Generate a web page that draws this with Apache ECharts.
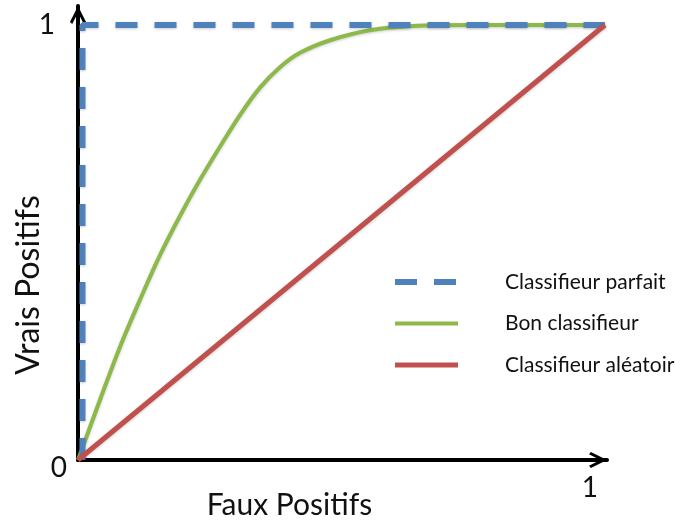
<!DOCTYPE html>
<html>
<head>
<meta charset="utf-8">
<script src="https://cdn.jsdelivr.net/npm/echarts@6/dist/echarts.min.js"></script>
<style>html,body{margin:0;padding:0;background:#fff}#c{width:675px;height:526px}</style>
</head>
<body>
<div id="c"></div>
<script>
// Data
const seriesNames = ['Classifieur parfait', 'Bon classifieur', 'Classifieur aléatoir'];
const perfectFP = [0.0085, 0.0085, 1];
const perfectTP = [0, 1, 1];
const goodFP = [0, 0.0417, 0.0797, 0.1176, 0.1556, 0.1935, 0.2315, 0.2694, 0.3074, 0.3454, 0.3833, 0.4213, 0.4782, 0.5541, 0.6357, 0.7438, 1];
const goodTP = [0, 0.138, 0.260, 0.368, 0.471, 0.561, 0.644, 0.720, 0.793, 0.856, 0.903, 0.936, 0.965, 0.988, 0.998, 1, 1];
const randomFP = [0, 1];
const randomTP = [0, 1];
const xTickLabels = ['', '1'];
const yTickLabels = ['0', '1'];
const xTitle = 'Faux Positifs';
const yTitle = 'Vrais Positifs';

const zip = (a, b) => a.map((v, i) => [v, b[i]]);
const FONT = 'Lato';
const arrow = 'path://M0,10 L5,0 L10,10 L8.6,11.2 L5,4.2 L1.4,11.2 Z';

const chart = echarts.init(document.getElementById('c'), null, {renderer: 'canvas'});
chart.setOption({
  animation: false,
  backgroundColor: '#fff',
  grid: {left: 78, right: 68, top: 6, bottom: 66, containLabel: false, outerBoundsMode: 'none'},
  xAxis: {
    type: 'value', min: 0, max: 1.004, interval: 1,
    name: xTitle, nameLocation: 'middle', nameGap: 30, nameMoveOverlap: false,
    nameTextStyle: {fontFamily: FONT, fontSize: 30, color: '#111', padding: [0, 106, 0, 0]},
    axisLine: {show: true, symbol: ['none', arrow], symbolSize: [20, 18], symbolOffset: [0, -9],
      lineStyle: {color: '#000', width: 4}},
    axisTick: {show: false}, splitLine: {show: false},
    axisLabel: {show: true, margin: 14, showMaxLabel: false, fontFamily: FONT, fontSize: 28, color: '#111',
      formatter: v => v === 1 ? '{a|' + xTickLabels[1] + '}' : xTickLabels[0],
      rich: {a: {fontFamily: FONT, fontSize: 28, color: '#111', padding: [0, 30, 0, 0]}}}
  },
  yAxis: {
    type: 'value', min: 0, max: 1.0437, interval: 1,
    name: yTitle, nameLocation: 'middle', nameGap: 33, nameRotate: 90, nameMoveOverlap: false,
    nameTextStyle: {fontFamily: FONT, fontSize: 32, color: '#111', padding: [0, 104, 0, 0]},
    axisLine: {show: true, symbol: ['none', arrow], symbolSize: [20, 18], symbolOffset: [0, -9],
      lineStyle: {color: '#000', width: 4}},
    axisTick: {show: false}, splitLine: {show: false},
    axisLabel: {show: true, margin: 11, showMaxLabel: false, fontFamily: FONT, fontSize: 28, color: '#111',
      formatter: v => v === 1 ? '{a|' + yTickLabels[1] + '}' : '{b|' + yTickLabels[0] + '}',
      rich: {
        a: {fontFamily: FONT, fontSize: 28, color: '#111', padding: [0, 12, 0, 0]},
        b: {fontFamily: FONT, fontSize: 28, color: '#111', padding: [16, 0, 0, 0]}
      }}
  },
  legend: {
    orient: 'vertical', left: 387, top: 266, itemWidth: 63, itemHeight: 14, itemGap: 19.5,
    itemStyle: {color: 'transparent', borderWidth: 0, opacity: 0},
    lineStyle: {width: 'inherit', type: 'inherit'},
    textStyle: {fontFamily: FONT, fontSize: 21, color: '#111', lineHeight: 22, padding: [0, 0, 0, 42]},
    data: seriesNames
  },
  series: [
    {name: seriesNames[1], type: 'line', data: zip(goodFP, goodTP), smooth: 0.35, symbol: 'none', z: 2,
      lineStyle: {color: '#8DB84A', width: 4, shadowColor: 'rgba(0,0,0,0.2)', shadowBlur: 3, shadowOffsetY: 1},
      itemStyle: {color: '#8DB84A'}},
    {name: seriesNames[0], type: 'line', data: zip(perfectFP, perfectTP), symbol: 'none', z: 3,
      lineStyle: {color: '#4F81BD', width: 6, type: [22, 17], shadowColor: 'rgba(0,0,0,0.2)', shadowBlur: 3, shadowOffsetY: 1},
      itemStyle: {color: '#4F81BD'}},
    {name: seriesNames[2], type: 'line', data: zip(randomFP, randomTP), symbol: 'none', z: 4,
      lineStyle: {color: '#C0504D', width: 5, shadowColor: 'rgba(0,0,0,0.2)', shadowBlur: 3, shadowOffsetY: 1},
      itemStyle: {color: '#C0504D'}}
  ]
});
</script>
</body>
</html>
